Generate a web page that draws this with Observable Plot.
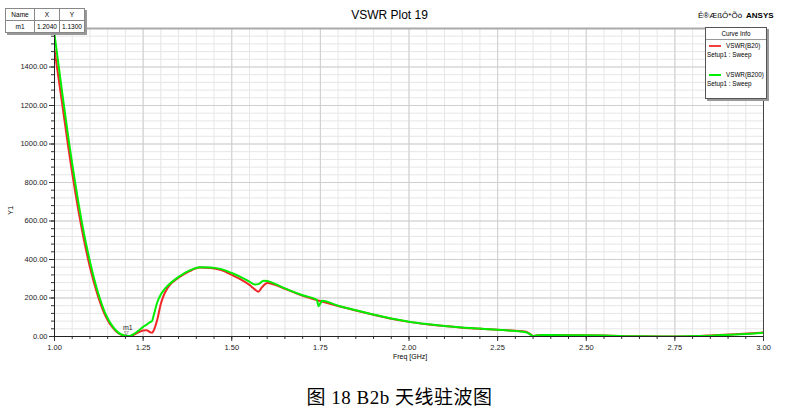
<!DOCTYPE html>
<html><head><meta charset="utf-8">
<script src="https://cdn.jsdelivr.net/npm/d3@7"></script>
<script src="https://cdn.jsdelivr.net/npm/@observablehq/plot@0.6"></script>
<style>
body{margin:0;background:#fff;font-family:"Liberation Sans",Arial,sans-serif;}
#wrap{position:relative;width:799px;height:375px;}
.abs{position:absolute;white-space:nowrap;}
#caption{width:799px;height:38px;text-align:center;font-family:"Liberation Serif","Noto Sans CJK SC",serif;font-size:19px;line-height:24px;padding-top:11px;box-sizing:border-box;color:#000;letter-spacing:0.5px;}
table.mk{border-collapse:collapse;font-size:6.5px;background:#fff;box-shadow:2px 2px 0 #999;}
table.mk td{border:1px solid #888;padding:0 2px;height:11px;text-align:center;}
#legend{left:705px;top:27px;width:60px;height:70px;border:1px solid #555;background:#fff;box-shadow:2px 2px 0 #999;font-size:6.3px;}
</style></head>
<body>
<div id="wrap">
  <div id="chart"></div>
  <div class="abs" style="left:0;top:8px;width:779px;text-align:center;font-size:12px;">VSWR Plot 19</div>
  <div class="abs" style="left:698px;top:11px;font-size:8px;">Ê®ÆßÔ*Õò</div>
  <div class="abs" style="left:746px;top:11px;font-size:8px;font-weight:bold;">ANSYS</div>
  <div class="abs" style="left:5px;top:8px;">
    <table class="mk"><tr><td style="width:24px">Name</td><td style="width:20px">X</td><td style="width:16px">Y</td></tr>
    <tr><td>m1</td><td>1.2040</td><td>1.1300</td></tr></table>
  </div>
  <div class="abs" id="legend">
    <div style="text-align:center;border-bottom:1px solid #999;height:11px;line-height:11px;">Curve Info</div>
    <div style="position:relative;height:29px;">
      <div class="abs" style="left:3px;top:5px;width:12px;height:2px;background:#f04040;"></div>
      <div class="abs" style="left:20px;top:2px;">VSWR(B20)</div>
      <div class="abs" style="left:1px;top:11px;">Setup1 : Sweep</div>
    </div>
    <div style="position:relative;height:28px;">
      <div class="abs" style="left:3px;top:5px;width:12px;height:2px;background:#00ee00;"></div>
      <div class="abs" style="left:20px;top:2px;">VSWR(B200)</div>
      <div class="abs" style="left:1px;top:11px;">Setup1 : Sweep</div>
    </div>
  </div>
  <div class="abs" style="left:393px;top:353px;font-size:7px;">Freq [GHz]</div>
  <div class="abs" style="left:6px;top:206px;font-size:7.5px;transform:rotate(-90deg);">Y1</div>
</div>
<div id="caption">图 18 B2b 天线驻波图</div>
<script>
// Frequencies (GHz) and VSWR readings for each curve
const freqB20 = [1.00,1.02,1.04,1.06,1.08,1.10,1.12,1.14,1.15,1.16,1.18,1.20,1.21,1.22,1.24,1.25,1.26,1.27,1.275,1.28,1.29,1.30,1.31,1.32,1.35,1.38,1.41,1.44,1.47,1.50,1.53,1.55,1.565,1.575,1.585,1.60,1.62,1.65,1.70,1.75,1.80,1.85,1.90,1.95,2.00,2.05,2.10,2.15,2.20,2.25,2.30,2.33,2.34,2.35,2.36,2.38,2.45,2.55,2.65,2.75,2.82,2.86,2.92,3.00];
const vswrB20 = [1490,1230,970,735,530,360,225,122,85,56,17,3,1,6,24,31,32,22,19,32,88,170,222,255,305,338,358,356,345,320,292,268,245,232,255,278,270,248,212,184,158,135,113,92,76,64,54,46,40,35,30,25,15,3,5,8,7,5,1,0,3,7,12,21];
const freqB200 = [1.00,1.02,1.04,1.06,1.08,1.10,1.12,1.14,1.15,1.16,1.18,1.20,1.21,1.22,1.24,1.25,1.26,1.27,1.275,1.28,1.29,1.30,1.31,1.32,1.35,1.38,1.41,1.44,1.47,1.50,1.53,1.55,1.565,1.575,1.59,1.60,1.62,1.65,1.70,1.74,1.745,1.75,1.755,1.80,1.85,1.90,1.95,2.00,2.05,2.10,2.15,2.20,2.25,2.30,2.33,2.34,2.35,2.36,2.38,2.45,2.55,2.65,2.75,2.82,2.86,2.92,3.00];
const vswrB200 = [1570,1290,1020,780,565,390,245,135,95,63,20,4,2,9,35,50,62,75,80,112,178,218,245,265,310,342,360,358,350,330,305,285,270,272,290,288,275,250,214,190,158,172,186,160,136,114,93,77,65,55,47,41,35,28,22,13,3,5,8,7,5,1,0,2,5,10,20];
const xMajor = [1.00,1.25,1.50,1.75,2.00,2.25,2.50,2.75,3.00];
const xMinor = d3.range(20,61).map(i => i/20);
const yMajor = [0,200,400,600,800,1000,1200,1400];
const yMinor = d3.range(0,41).map(i => i*40);
const marker = [{f:1.204, v:1.13, name:"m1"}];

const red = freqB20.map((f,i) => ({f, v: vswrB20[i]}));
const green = freqB200.map((f,i) => ({f, v: vswrB200[i]}));

const chart = Plot.plot({
  width: 799, height: 375,
  marginLeft: 54, marginRight: 36, marginTop: 28, marginBottom: 39,
  style: {fontFamily: "'Liberation Sans', Arial, sans-serif", fontSize: "7.5px", background: "#fff", color: "#222"},
  x: {domain: [1, 3]},
  y: {domain: [0, 1600]},
  marks: [
    Plot.gridX(xMinor, {stroke: "#e6e6e6", strokeOpacity: 1}),
    Plot.gridY(yMinor, {stroke: "#e6e6e6", strokeOpacity: 1}),
    Plot.gridX(xMajor, {stroke: "#cfcfcf", strokeOpacity: 1}),
    Plot.gridY(yMajor, {stroke: "#cfcfcf", strokeOpacity: 1}),
    Plot.axisX(xMinor, {tickSize: 3, tickFormat: () => "", label: null, stroke: "#333"}),
    Plot.axisX(xMajor, {tickSize: 5, tickFormat: d3.format(".2f"), label: null, tickPadding: 3, stroke: "#333"}),
    Plot.axisY(yMinor, {tickSize: 3, tickFormat: () => "", label: null, stroke: "#333"}),
    Plot.axisY(yMajor, {tickSize: 5, tickFormat: d3.format(".2f"), label: null, tickPadding: 2, stroke: "#333"}),
    Plot.ruleY([1600], {stroke: "#aaa", strokeWidth: 2}),
    Plot.ruleX([3], {stroke: "#444", strokeWidth: 1}),
    Plot.line(red, {x: "f", y: "v", stroke: "#f02828", strokeWidth: 2, curve: "monotone-x", clip: true}),
    Plot.line(green, {x: "f", y: "v", stroke: "#00ee00", strokeWidth: 2, curve: "monotone-x", clip: true}),
    Plot.ruleX([1], {stroke: "#222"}),
    Plot.ruleY([0], {stroke: "#222"}),
    Plot.text(marker, {x: "f", y: "v", text: "name", dy: -9, dx: 1, fontSize: 7}),
    Plot.text(marker, {x: "f", y: "v", text: () => "▽", dy: -3, fontSize: 6})
  ]
});
document.getElementById("chart").appendChild(chart);
</script>
</body></html>
